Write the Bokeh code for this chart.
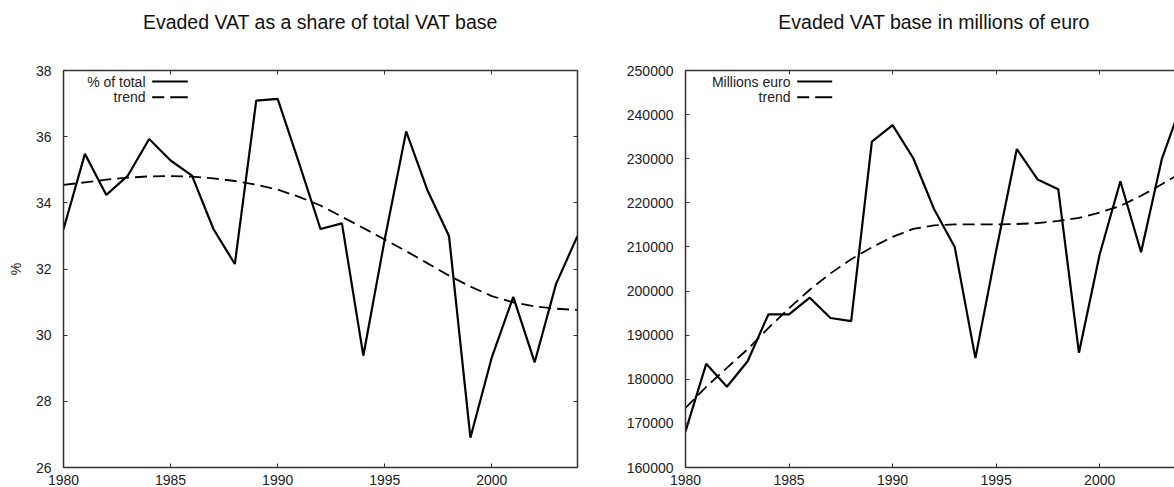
from bokeh.plotting import figure
from bokeh.models import Range1d, LinearAxis, SingleIntervalTicker, Label, Arrow, NumeralTickFormatter
from bokeh.layouts import row
from bokeh.embed import file_html
from bokeh.resources import INLINE

years = list(range(1980, 2005))
share_pct = [33.2, 35.48, 34.24, 34.82, 35.93, 35.28, 34.82, 33.21, 32.15, 37.09,
             37.14, 35.2, 33.21, 33.38, 29.38, 32.9, 36.16, 34.37, 33.0, 26.9,
             29.33, 31.16, 29.18, 31.55, 33.0]
share_trend = [34.54, 34.62, 34.70, 34.76, 34.80, 34.81, 34.79, 34.74, 34.66, 34.55,
               34.40, 34.18, 33.92, 33.58, 33.24, 32.89, 32.54, 32.17, 31.80, 31.47,
               31.18, 30.99, 30.87, 30.80, 30.76]
base_meur = [168200, 183500, 178300, 184100, 194700, 194700, 198500, 193900, 193200, 233900,
             237600, 230100, 218600, 210000, 184800, 209100, 232200, 225300, 223100, 186000,
             208300, 224900, 208800, 229900, 243000]
base_trend = [173500, 178300, 182600, 186800, 191600, 196100, 200300, 204000, 207200, 209900,
              212300, 214100, 214900, 215100, 215100, 215100, 215200, 215400, 215900, 216600,
              217800, 219300, 221600, 224200, 227000]

FONT = "Liberation Sans"
AX = "#333333"
H = 493


def style_axis(ax, labels=True, standoff=8):
    ax.axis_line_color = AX
    ax.axis_line_width = 1.5
    ax.major_tick_in = 4
    ax.major_tick_out = 0
    ax.major_tick_line_color = AX
    ax.major_tick_line_width = 1
    ax.minor_tick_line_color = None
    ax.major_label_text_font = FONT
    if labels:
        ax.major_label_text_color = "#222222"
        ax.major_label_text_font_size = "14px"
    else:
        ax.major_label_text_color = None
        ax.major_label_text_font_size = "1px"
    ax.major_label_standoff = standoff


def make_fig(width, y0, y1, ystep, title, mbl, mbr, yfmt=None):
    p = figure(width=width, height=H, x_range=Range1d(1980, 2004), y_range=Range1d(y0, y1),
               output_backend="svg", toolbar_location=None,
               min_border_left=mbl, min_border_right=mbr, min_border_top=70, min_border_bottom=26)
    p.grid.visible = False
    p.outline_line_color = None
    p.background_fill_color = "white"
    p.border_fill_color = "white"
    xt = SingleIntervalTicker(interval=5)
    yt = SingleIntervalTicker(interval=ystep)
    p.xaxis.ticker = xt
    p.yaxis.ticker = yt
    if yfmt is not None:
        p.yaxis.formatter = yfmt
    style_axis(p.xaxis[0], True, 3)
    style_axis(p.yaxis[0], True, 8)
    top = LinearAxis(ticker=xt)
    style_axis(top, False, 0)
    p.add_layout(top, "above")
    # invisible spacer that lifts the title away from the frame
    spacer = LinearAxis(ticker=xt, axis_line_color=None, major_tick_line_color=None,
                        minor_tick_line_color=None, major_tick_in=0, major_tick_out=34,
                        major_label_text_color=None, major_label_text_font_size="1px")
    p.add_layout(spacer, "above")
    rt = LinearAxis(ticker=yt)
    style_axis(rt, False, 0)
    p.add_layout(rt, "right")
    p.title.text = title
    p.title.text_font = FONT
    p.title.text_font_size = "19.5px"
    p.title.text_font_style = "normal"
    p.title.text_color = "#111111"
    p.title.align = "center"
    p.title.standoff = 0
    return p


def add_legend(p, text_right, line_x0, line_x1, labels):
    rows_y = [386, 370.3]
    for lab, sy, dash in zip(labels, rows_y, ["solid", "12 6 18"]):
        p.add_layout(Label(x=text_right, y=sy, x_units="screen", y_units="screen", text=lab,
                           text_align="right", text_baseline="middle", text_font=FONT,
                           text_font_size="14px", text_color="#222222"))
        p.add_layout(Arrow(end=None, x_start=line_x0, y_start=sy, x_end=line_x1, y_end=sy,
                           start_units="screen", end_units="screen", line_color="black",
                           line_width=2, line_dash=dash))


p1 = make_fig(620, 26, 38, 2, "Evaded VAT as a share of total VAT base", 63, 43)
p1.line(years, share_pct, line_color="black", line_width=2.2)
p1.line(years, share_trend, line_color="black", line_width=1.8, line_dash="12 6")
p1.yaxis[0].axis_label = "%"
p1.yaxis[0].axis_label_text_font = FONT
p1.yaxis[0].axis_label_text_font_size = "14px"
p1.yaxis[0].axis_label_text_font_style = "normal"
p1.yaxis[0].axis_label_text_color = "#222222"
p1.yaxis[0].axis_label_standoff = 9
add_legend(p1, 82, 88.7, 124.3, ["% of total", "trend"])

p2 = make_fig(566, 160000, 250000, 10000, "Evaded VAT base in millions of euro",
              65, 0, NumeralTickFormatter(format="0"))
p2.line(years, base_meur, line_color="black", line_width=2.2)
p2.line(years, base_trend, line_color="black", line_width=1.8, line_dash="12 6")
add_legend(p2, 105, 111.7, 146.7, ["Millions euro", "trend"])

layout = row(p1, p2)
open("out.html", "w").write(file_html(layout, INLINE))
